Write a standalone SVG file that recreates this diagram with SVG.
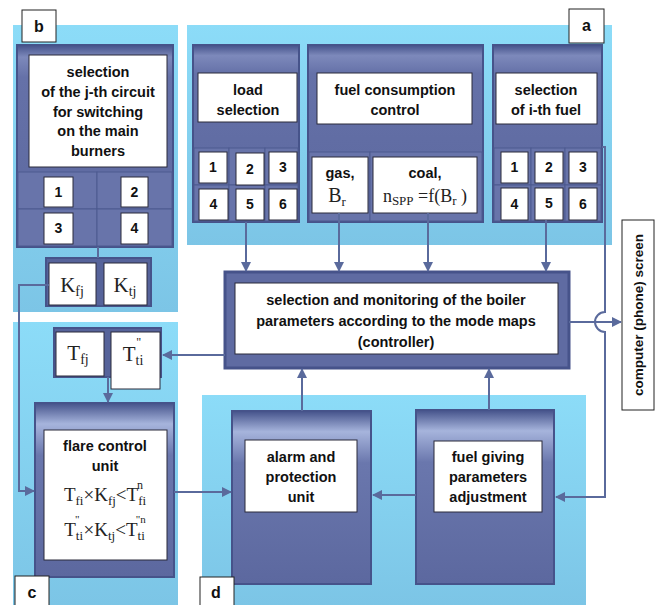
<svg xmlns="http://www.w3.org/2000/svg" width="670" height="605" viewBox="0 0 670 605">
<defs>
<linearGradient id="lb" x1="0" y1="0" x2="0" y2="1">
<stop offset="0" stop-color="#8cdcf8"/><stop offset="1" stop-color="#7cc5e6"/>
</linearGradient>
<linearGradient id="dk" x1="0" y1="0" x2="0" y2="1">
<stop offset="0" stop-color="#44528a"/><stop offset="0.06" stop-color="#7d89bb"/><stop offset="0.16" stop-color="#6571a8"/><stop offset="1" stop-color="#5c689f"/>
</linearGradient>
<linearGradient id="dk2" x1="0" y1="0" x2="0" y2="1">
<stop offset="0" stop-color="#44528a"/><stop offset="0.12" stop-color="#a6b4dc"/><stop offset="0.3" stop-color="#6a77ad"/><stop offset="1" stop-color="#5c689f"/>
</linearGradient>
<marker id="ar" viewBox="0 0 10 10" refX="9" refY="5" markerWidth="10" markerHeight="10" markerUnits="userSpaceOnUse" orient="auto">
<path d="M0,0 L10,5 L0,10 z" fill="#5a6a9c"/>
</marker>
<style>
.lb{fill:url(#lb);}
.dk{fill:url(#dk);stroke:#46538a;stroke-width:2;}
.dk2{fill:url(#dk2);stroke:#46538a;stroke-width:2;}
.cell{fill:#6874aa;stroke:#4d5a90;stroke-width:1;}
.wb{fill:#fff;stroke:#2a2a3a;stroke-width:1;}
.lab{fill:#fff;stroke:#222;stroke-width:1;}
.t{font-family:"Liberation Sans",Arial,sans-serif;font-weight:bold;font-size:14.5px;fill:#111;text-anchor:middle;}
.n{font-family:"Liberation Sans",Arial,sans-serif;font-weight:bold;font-size:14px;fill:#111;text-anchor:middle;}
.L{font-family:"Liberation Sans",Arial,sans-serif;font-weight:bold;font-size:16px;fill:#111;text-anchor:middle;}
.m{font-family:"Liberation Serif","Times New Roman",serif;font-size:17px;fill:#222;text-anchor:middle;}
.ln{fill:none;stroke:#5a6a9c;stroke-width:2;}
.la{fill:none;stroke:#5a6a9c;stroke-width:2;marker-end:url(#ar);}
</style>
</defs>
<rect width="670" height="605" fill="#fff"/>

<g id="panel-b">
<rect class="lb" x="13" y="25" width="165" height="287"/>
<rect class="dk" x="17" y="45" width="156" height="202"/>
<rect class="cell" x="18" y="172" width="79" height="37"/>
<rect class="cell" x="97" y="172" width="75" height="37"/>
<rect class="cell" x="18" y="209" width="79" height="37"/>
<rect class="cell" x="97" y="209" width="75" height="37"/>
<rect class="wb" x="29" y="55" width="138" height="112"/>
<text class="t" x="98" y="77">selection</text>
<text class="t" x="98" y="97">of the j-th circuit</text>
<text class="t" x="98" y="117">for switching</text>
<text class="t" x="98" y="136">on the main</text>
<text class="t" x="98" y="156">burners</text>
<rect class="wb" x="44" y="177" width="29" height="30"/><text class="n" x="58.5" y="197">1</text>
<rect class="wb" x="121" y="177" width="27" height="30"/><text class="n" x="134.5" y="197">2</text>
<rect class="wb" x="44" y="213" width="29" height="31"/><text class="n" x="58.5" y="233">3</text>
<rect class="wb" x="121" y="213" width="27" height="31"/><text class="n" x="134.5" y="233">4</text>
<rect x="46" y="258" width="105" height="48" fill="#56639a" stroke="#46538a" stroke-width="2"/>
<rect class="wb" x="49" y="263" width="47" height="42"/>
<text class="m" x="72" y="292" style="font-size:21px">K<tspan dy="4" style="font-size:14px">fj</tspan></text>
<rect class="wb" x="104" y="263" width="43" height="42"/>
<text class="m" x="125" y="292" style="font-size:21px">K<tspan dy="4" style="font-size:14px">tj</tspan></text>
<rect class="lab" x="22" y="10" width="34" height="32"/><text class="L" x="39" y="32">b</text>
</g>

<g id="panel-a">
<rect class="lb" x="187" y="25" width="425" height="220"/>
<rect class="dk" x="193" y="45" width="106" height="177"/>
<rect class="dk" x="308" y="45" width="175" height="177"/>
<rect class="dk" x="493" y="45" width="109" height="177"/>
<g stroke="#4d5a90" stroke-width="1" fill="#6874aa">
<rect x="194" y="148" width="35" height="37"/><rect x="229" y="148" width="36" height="37"/><rect x="265" y="148" width="33" height="37"/>
<rect x="194" y="185" width="35" height="36"/><rect x="229" y="185" width="36" height="36"/><rect x="265" y="185" width="33" height="36"/>
<rect x="309" y="152" width="61" height="69"/><rect x="370" y="152" width="112" height="69"/>
<rect x="494" y="148" width="37" height="37"/><rect x="531" y="148" width="34" height="37"/><rect x="565" y="148" width="36" height="37"/>
<rect x="494" y="185" width="37" height="36"/><rect x="531" y="185" width="34" height="36"/><rect x="565" y="185" width="36" height="36"/>
</g>
<rect class="wb" x="198" y="73" width="99" height="49"/>
<text class="t" x="248" y="95">load</text>
<text class="t" x="248" y="115">selection</text>
<rect class="wb" x="317" y="73" width="155" height="51"/>
<text class="t" x="395" y="95">fuel consumption</text>
<text class="t" x="395" y="115">control</text>
<rect class="wb" x="496" y="73" width="101" height="51"/>
<text class="t" x="546" y="95">selection</text>
<text class="t" x="546" y="115">of i-th fuel</text>
<rect class="wb" x="199" y="152" width="28" height="31"/><text class="n" x="213" y="172">1</text>
<rect class="wb" x="236" y="153" width="28" height="32"/><text class="n" x="250" y="174">2</text>
<rect class="wb" x="269" y="152" width="28" height="31"/><text class="n" x="283" y="172">3</text>
<rect class="wb" x="199" y="189" width="29" height="31"/><text class="n" x="213.5" y="209">4</text>
<rect class="wb" x="236" y="189" width="28" height="31"/><text class="n" x="250" y="209">5</text>
<rect class="wb" x="269" y="189" width="28" height="31"/><text class="n" x="283" y="209">6</text>
<rect class="wb" x="312" y="157" width="56" height="56"/>
<text class="t" x="340" y="178">gas,</text>
<text class="m" x="337" y="202" style="font-size:20px">B<tspan dy="4" style="font-size:13px">r</tspan></text>
<rect class="wb" x="373" y="157" width="104" height="56"/>
<text class="t" x="425" y="178">coal,</text>
<text class="m" x="425" y="202" style="font-size:18px">n<tspan dy="3" style="font-size:13px">SPP</tspan><tspan dy="-3"> =f(B</tspan><tspan dy="3" style="font-size:13px">r</tspan><tspan dy="-3"> )</tspan></text>
<rect class="wb" x="501" y="152" width="27" height="31"/><text class="n" x="514.5" y="172">1</text>
<rect class="wb" x="535" y="152" width="28" height="31"/><text class="n" x="549" y="172">2</text>
<rect class="wb" x="569" y="152" width="28" height="31"/><text class="n" x="583" y="172">3</text>
<rect class="wb" x="501" y="188" width="27" height="32"/><text class="n" x="514.5" y="209">4</text>
<rect class="wb" x="535" y="188" width="28" height="32"/><text class="n" x="549" y="208">5</text>
<rect class="wb" x="569" y="188" width="28" height="32"/><text class="n" x="583" y="209">6</text>
<rect class="lab" x="569" y="9" width="35" height="34"/><text class="L" x="586.5" y="31">a</text>
</g>

<g id="panel-c">
<rect class="lb" x="13" y="322" width="165" height="283"/>
<rect x="54" y="328" width="107" height="49" fill="#56639a" stroke="#46538a" stroke-width="2"/>
<rect class="wb" x="56" y="332" width="48" height="44"/>
<text class="m" x="78" y="360" style="font-size:21px">T<tspan dy="4" style="font-size:14px">fj</tspan></text>
<rect class="wb" x="111" y="332" width="49" height="57"/>
<text class="m" x="133" y="361" style="font-size:21px">T<tspan dy="4" style="font-size:14px">ti</tspan><tspan dx="-7" dy="-19" style="font-size:12px">"</tspan></text>
<rect class="dk2" x="35" y="403" width="139" height="174"/>
<rect class="wb" x="44" y="430" width="123" height="130"/>
<text class="t" x="105" y="451">flare control</text>
<text class="t" x="105" y="471">unit</text>
<text class="m" x="105" y="501" style="font-size:19px">T<tspan dy="4" style="font-size:13px">fi</tspan><tspan dy="-4">×K</tspan><tspan dy="4" style="font-size:13px">fj</tspan><tspan dy="-4">&lt;T</tspan><tspan dy="4" style="font-size:13px">fi</tspan><tspan dx="-9" dy="-16" style="font-size:12px">n</tspan></text>
<text class="m" x="105" y="536" style="font-size:19px">T<tspan dy="4" style="font-size:13px">ti</tspan><tspan dx="-8" dy="-17" style="font-size:11px">"</tspan><tspan dx="4" dy="13">×K</tspan><tspan dy="4" style="font-size:13px">tj</tspan><tspan dy="-4">&lt;T</tspan><tspan dy="4" style="font-size:13px">ti</tspan><tspan dx="-9" dy="-17" style="font-size:11px">"n</tspan></text>
<rect class="lab" x="15" y="576" width="34" height="32"/><text class="L" x="32" y="598">c</text>
</g>

<g id="panel-d">
<rect class="lb" x="202" y="395" width="384" height="210"/>
<rect class="dk2" x="232" y="411" width="139" height="173"/>
<rect class="wb" x="245" y="440" width="112" height="72"/>
<text class="t" x="301" y="462">alarm and</text>
<text class="t" x="301" y="482">protection</text>
<text class="t" x="301" y="502">unit</text>
<rect class="dk2" x="416" y="410" width="138" height="174"/>
<rect class="wb" x="434" y="441" width="108" height="71"/>
<text class="t" x="488" y="462">fuel giving</text>
<text class="t" x="488" y="482">parameters</text>
<text class="t" x="488" y="502">adjustment</text>
<rect class="lab" x="200" y="577" width="34" height="31"/><text class="L" x="216" y="598">d</text>
</g>

<g id="controller">
<rect x="225" y="272" width="344" height="96" fill="#5f6ba2" stroke="#46538a" stroke-width="3"/>
<rect class="wb" x="235" y="283" width="323" height="71"/>
<text class="t" x="396" y="305">selection and monitoring of the boiler</text>
<text class="t" x="396" y="326">parameters according to the mode maps</text>
<text class="t" x="396" y="347">(controller)</text>
</g>

<g id="screen">
<rect class="lab" x="622" y="220" width="32" height="190"/>
<text class="t" style="font-size:13.5px" transform="translate(643,315) rotate(-90)">computer (phone) screen</text>
</g>

<g id="connectors">
<line class="ln" x1="98" y1="247" x2="98" y2="258"/>
<path class="la" d="M49,285 H19 V491 H34"/>
<path class="la" d="M246,222 V271"/>
<path class="la" d="M339,213 V271"/>
<path class="la" d="M428,213 V271"/>
<path class="la" d="M546,220 V271"/>
<path class="la" d="M225,355 H163"/>
<path class="la" d="M108,377 V402"/>
<path class="la" d="M174,492 H231"/>
<path class="la" d="M416,495 H373"/>
<path class="la" d="M302,411 V369"/>
<path class="la" d="M489,410 V369"/>
<path class="la" d="M602,147 H605 V312 A10,10 0 0 0 605,332 V497 H556"/>
<path class="la" d="M569,322 H621"/>
</g>
</svg>
